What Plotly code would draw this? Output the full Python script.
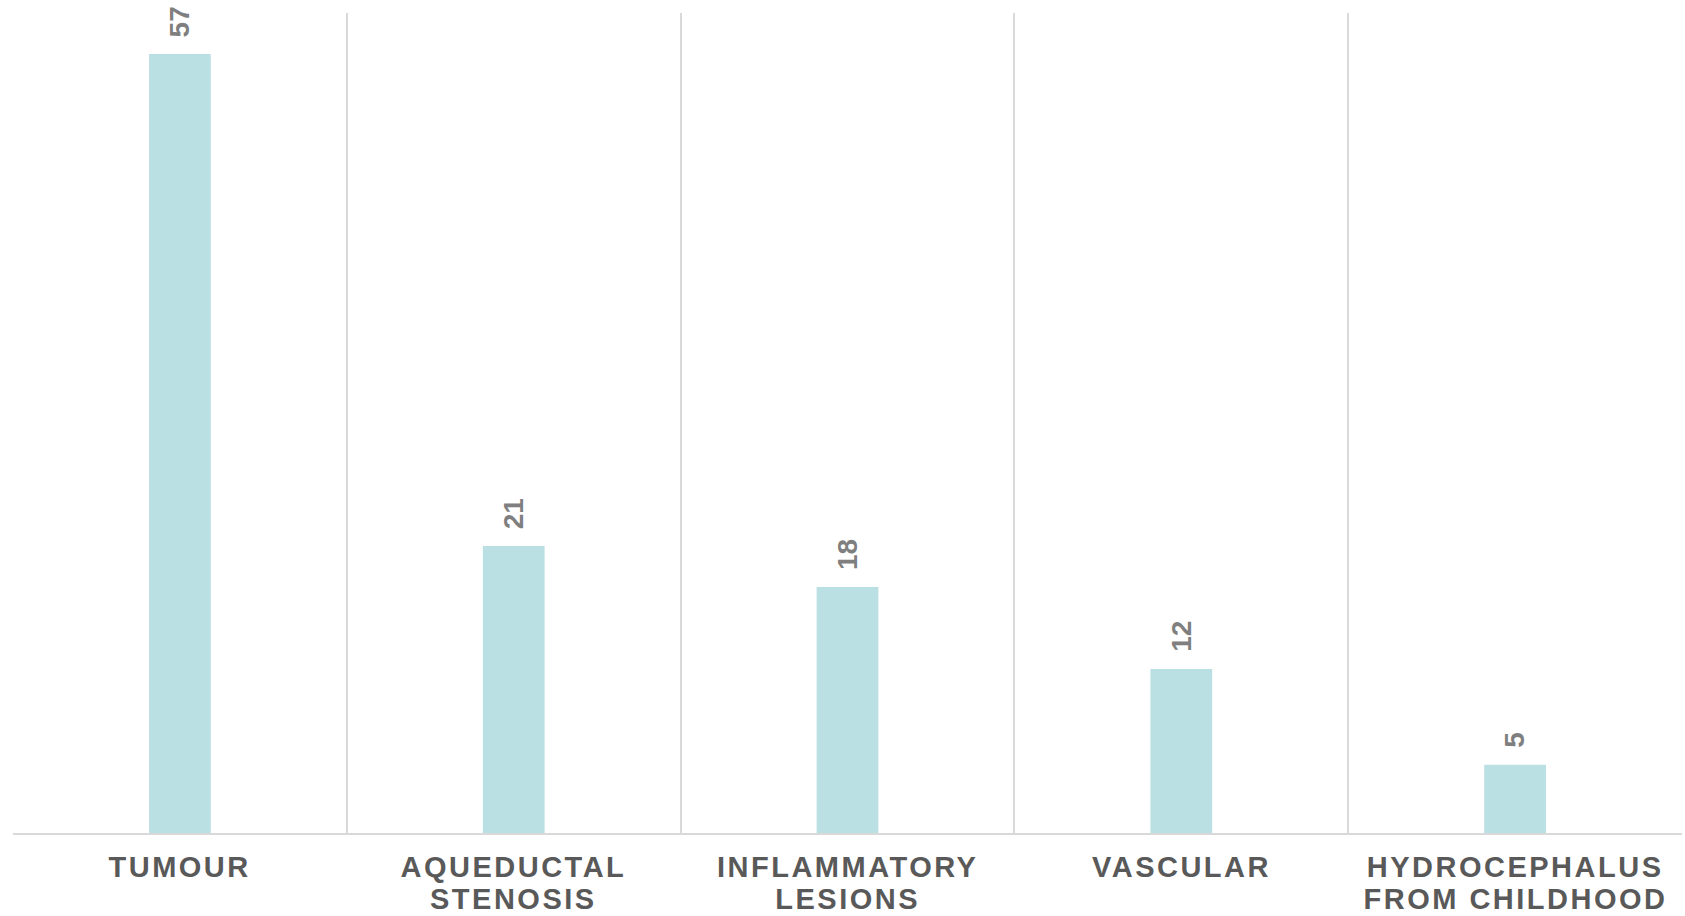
import plotly.graph_objects as go

# Causes of hydrocephalus and their case counts
categories = ["TUMOUR", "AQUEDUCTAL STENOSIS", "INFLAMMATORY LESIONS", "VASCULAR",
              "HYDROCEPHALUS FROM CHILDHOOD"]
label_lines = [["TUMOUR"], ["AQUEDUCTAL", "STENOSIS"], ["INFLAMMATORY", "LESIONS"],
               ["VASCULAR"], ["HYDROCEPHALUS", "FROM CHILDHOOD"]]
counts = [57, 21, 18, 12, 5]

BAR_COLOR = "#bbe0e3"
LABEL_COLOR = "#7f7f7f"
TICK_COLOR = "#595959"
GRID_COLOR = "#d9d9d9"
FONT = "Liberation Sans, Arial, sans-serif"

fig = go.Figure(
    go.Bar(
        x=categories,
        y=counts,
        width=0.185,
        marker=dict(color=BAR_COLOR, line=dict(width=0)),
        hoverinfo="x+y",
    )
)

# Value labels above each bar, rotated
for cat, val in zip(categories, counts):
    fig.add_annotation(
        x=cat, y=val, text=f"<b>{val}</b>", textangle=-90,
        showarrow=False, yanchor="bottom", yshift=15,
        font=dict(family=FONT, size=28, color=LABEL_COLOR),
    )

# Category names under the axis, one annotation per line for tight leading
first_cat_index = len(fig.layout.annotations)
for cat, lines in zip(categories, label_lines):
    for i, line in enumerate(lines):
        fig.add_annotation(
            x=cat, xref="x", y=0, yref="paper", text=f"<b>{line}</b>",
            showarrow=False, yanchor="top", yshift=-16 - 32 * i,
            font=dict(family=FONT, size=29, color=TICK_COLOR),
        )
last_cat_index = len(fig.layout.annotations)

fig.update_layout(
    width=1685, height=916,
    margin=dict(l=13, r=3, t=13, b=83),
    paper_bgcolor="white", plot_bgcolor="white",
    showlegend=False,
    font=dict(family=FONT),
)

fig.update_xaxes(
    type="category",
    tickson="boundaries",
    showgrid=True, gridcolor=GRID_COLOR, gridwidth=1.5,
    showline=True, linecolor=GRID_COLOR, linewidth=2,
    ticks="", ticklen=0, showticklabels=False,
)
fig.update_yaxes(
    range=[0, 60],
    showgrid=False, zeroline=False, showticklabels=False,
    showline=False,
)

# Wider tracking on the category names
selectors = ",".join(
    f'.annotation[data-index="{k}"] text' for k in range(first_cat_index, last_cat_index)
)
letter_spacing = (
    "var s=document.createElement('style');"
    f"s.textContent='{selectors}{{letter-spacing:2.5px}}';"
    "document.head.appendChild(s);"
)
fig.write_html("out.html", post_script=letter_spacing)
